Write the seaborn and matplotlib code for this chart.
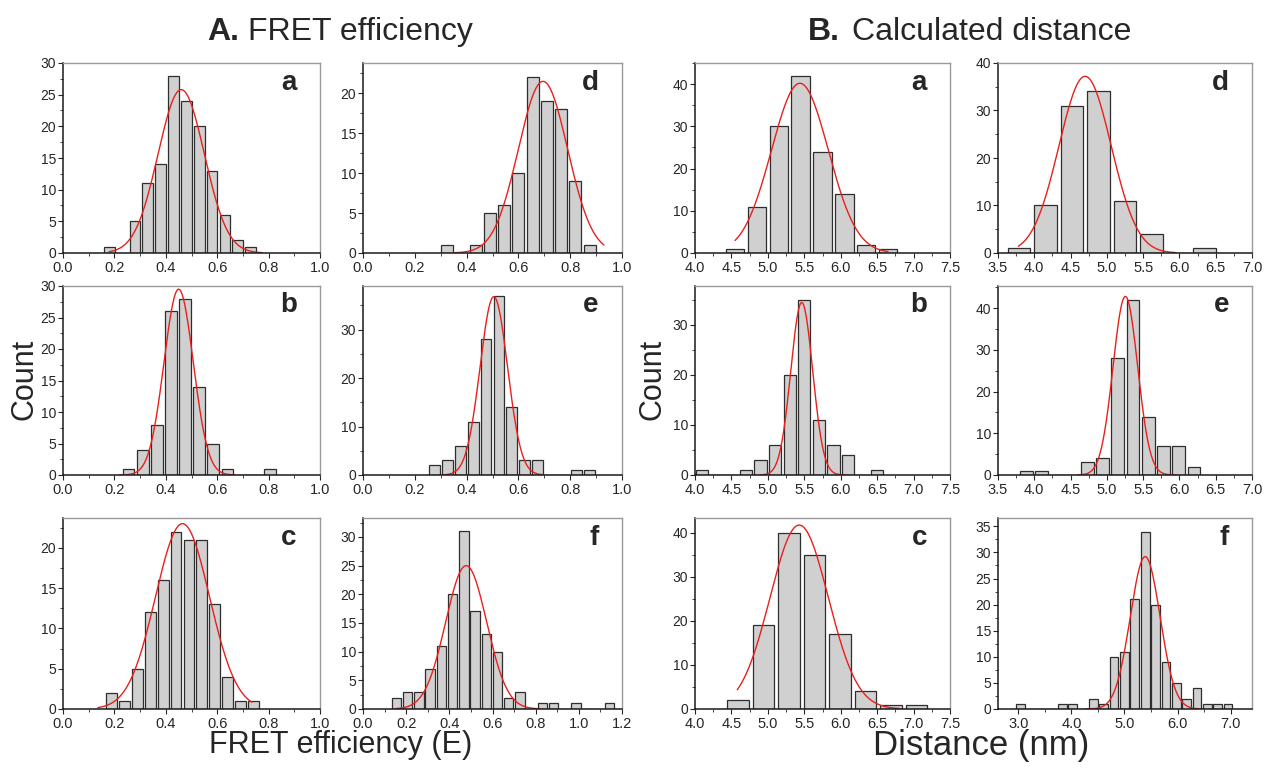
import numpy as np
import pandas as pd
import matplotlib
matplotlib.use("Agg")
import matplotlib.pyplot as plt
from matplotlib.ticker import MultipleLocator, FormatStrFormatter
import seaborn as sns

sns.set_style("ticks")
plt.rcParams['font.family'] = ['Liberation Sans', 'DejaVu Sans']

# --- A. FRET efficiency histograms: bin centres and counts ---
fret_a_x = [0.18, 0.28, 0.33, 0.38, 0.43, 0.48, 0.53, 0.58, 0.63, 0.68, 0.73]
fret_a_n = [1, 5, 11, 14, 28, 24, 20, 13, 6, 2, 1]
fret_b_x = [0.255, 0.31, 0.365, 0.42, 0.475, 0.53, 0.585, 0.64, 0.805]
fret_b_n = [1, 4, 8, 26, 28, 14, 5, 1, 1]
fret_c_x = [0.19, 0.24, 0.29, 0.34, 0.39, 0.44, 0.49, 0.54, 0.59, 0.64, 0.69, 0.74]
fret_c_n = [2, 1, 5, 12, 16, 22, 21, 21, 13, 4, 1, 1]
fret_d_x = [0.325, 0.435, 0.49, 0.545, 0.60, 0.655, 0.71, 0.765, 0.82, 0.875]
fret_d_n = [1, 1, 5, 6, 10, 22, 19, 18, 9, 1]
fret_e_x = [0.275, 0.325, 0.375, 0.425, 0.475, 0.525, 0.575, 0.625, 0.675, 0.825, 0.875]
fret_e_n = [2, 3, 6, 11, 28, 37, 14, 3, 3, 1, 1]
fret_f_x = [0.155, 0.207, 0.259, 0.311, 0.363, 0.415, 0.467, 0.519, 0.571, 0.623,
            0.675, 0.727, 0.831, 0.883, 0.987, 1.143]
fret_f_n = [2, 3, 3, 7, 11, 20, 31, 17, 13, 10, 2, 3, 1, 1, 1, 1]
fret_binw = [0.05, 0.055, 0.05, 0.055, 0.05, 0.052]

# --- B. calculated distance (nm) histograms ---
dist_a_x = [4.55, 4.85, 5.15, 5.45, 5.75, 6.05, 6.35, 6.65]
dist_a_n = [1, 11, 30, 42, 24, 14, 2, 1]
dist_b_x = [4.1, 4.7, 4.9, 5.1, 5.3, 5.5, 5.7, 5.9, 6.1, 6.5]
dist_b_n = [1, 1, 3, 6, 20, 35, 11, 6, 4, 1]
dist_c_x = [4.59, 4.94, 5.29, 5.64, 5.99, 6.34, 6.69, 7.04]
dist_c_n = [2, 19, 40, 35, 17, 4, 1, 1]
dist_d_x = [3.79, 4.155, 4.52, 4.885, 5.25, 5.615, 6.345]
dist_d_n = [1, 10, 31, 34, 11, 4, 1]
dist_e_x = [3.89, 4.10, 4.73, 4.94, 5.15, 5.36, 5.57, 5.78, 5.99, 6.20]
dist_e_n = [1, 1, 3, 4, 28, 42, 14, 7, 7, 2]
dist_f_x = [3.05, 3.83, 4.025, 4.415, 4.61, 4.805, 5.0, 5.195, 5.39, 5.585,
            5.78, 5.975, 6.17, 6.365, 6.56, 6.755, 6.95]
dist_f_n = [1, 1, 1, 2, 1, 10, 11, 21, 34, 20, 9, 5, 2, 4, 1, 1, 1]
dist_binw = [0.3, 0.2, 0.35, 0.365, 0.21, 0.195]

# --- Gaussian fits: amplitude, mean, sigma, curve start, curve end ---
fret_fits = [(25.8, 0.46, 0.09, 0.18, 0.775),
             (29.5, 0.45, 0.057, 0.22, 0.67),
             (23.0, 0.465, 0.105, 0.135, 0.735),
             (21.5, 0.695, 0.095, 0.35, 0.93),
             (36.8, 0.505, 0.053, 0.31, 0.70),
             (25.0, 0.478, 0.095, 0.15, 0.82)]
dist_fits = [(40.2, 5.44, 0.39, 4.55, 6.65),
             (34.5, 5.465, 0.15, 4.9, 6.05),
             (41.7, 5.43, 0.40, 4.58, 6.8),
             (37.2, 4.70, 0.36, 3.78, 5.95),
             (42.8, 5.255, 0.17, 4.6, 5.95),
             (29.2, 5.39, 0.28, 4.28, 6.4)]

panel_letters = ['a', 'b', 'c', 'd', 'e', 'f']

W, H = 1265, 773
fig = plt.figure(figsize=(W / 100, H / 100), dpi=100)

col_px = [(63, 320), (363, 622), (695, 950), (998, 1252)]
row_px = [(63, 253), (286, 475), (518, 709)]


def make_ax(col, row):
    x0, x1 = col_px[col]
    y0, y1 = row_px[row]
    return fig.add_axes([x0 / W, 1 - y1 / H, (x1 - x0) / W, (y1 - y0) / H])


def draw_panel(ax, xs, ns, w, fit, letter, xlim, ylim, xmaj, ymaj, xfmt):
    n_bins = int(round((xs[-1] - xs[0]) / w)) + 1
    lo_edge = xs[0] - w / 2
    df = pd.DataFrame({'value': xs, 'count': ns})
    sns.histplot(data=df, x='value', weights='count', bins=n_bins,
                 binrange=(lo_edge, lo_edge + n_bins * w), shrink=0.84, ax=ax,
                 color='#d0d0d0', edgecolor='#2e2e2e', linewidth=0.9, alpha=1)
    amp, mu, sd, lo, hi = fit
    gx = np.linspace(lo, hi, 300)
    gy = amp * np.exp(-0.5 * ((gx - mu) / sd) ** 2)
    sns.lineplot(x=gx, y=gy, ax=ax, color='#e8201c', linewidth=1.0)

    ax.set_xlim(*xlim)
    ax.set_ylim(*ylim)
    ax.xaxis.set_major_locator(MultipleLocator(xmaj))
    ax.xaxis.set_minor_locator(MultipleLocator(xmaj / 2))
    ax.yaxis.set_major_locator(MultipleLocator(ymaj))
    ax.yaxis.set_minor_locator(MultipleLocator(ymaj / 2))
    ax.xaxis.set_major_formatter(FormatStrFormatter(xfmt))
    ax.tick_params(axis='x', which='major', labelsize=10.5, length=3.5, width=0.8, pad=2)
    ax.tick_params(axis='y', which='major', labelsize=10, length=3.5, width=0.8, pad=1.5)
    ax.tick_params(which='minor', length=2, width=0.6)
    ax.set_xlabel('')
    ax.set_ylabel('')
    for side in ['left', 'bottom']:
        ax.spines[side].set_color('#1a1a1a')
        ax.spines[side].set_linewidth(1.1)
    for side in ['top', 'right']:
        ax.spines[side].set_visible(True)
        ax.spines[side].set_color('#9a9a9a')
        ax.spines[side].set_linewidth(1.0)
    ax.text(0.91, 0.86, letter, transform=ax.transAxes, ha='right', va='baseline',
            fontsize=20, fontweight='bold')


fret_x = [fret_a_x, fret_b_x, fret_c_x, fret_d_x, fret_e_x, fret_f_x]
fret_n = [fret_a_n, fret_b_n, fret_c_n, fret_d_n, fret_e_n, fret_f_n]
dist_x = [dist_a_x, dist_b_x, dist_c_x, dist_d_x, dist_e_x, dist_f_x]
dist_n = [dist_a_n, dist_b_n, dist_c_n, dist_d_n, dist_e_n, dist_f_n]

fret_ylim = [(0, 30), (0, 30), (0, 23.7), (0, 23.8), (0, 39), (0, 33.3)]
fret_ymaj = [5, 5, 5, 5, 10, 5]
fret_xlim = [(0, 1), (0, 1), (0, 1), (0, 1), (0, 1), (0, 1.2)]
dist_ylim = [(0, 45), (0, 37.8), (0, 43.3), (0, 40), (0, 45.3), (0, 36.6)]
dist_ymaj = [10, 10, 10, 10, 10, 5]
dist_xlim = [(4, 7.5), (4, 7.5), (4, 7.5), (3.5, 7.0), (3.5, 7.0), (2.62, 7.4)]
dist_xmaj = [0.5, 0.5, 0.5, 0.5, 0.5, 1.0]

for i in range(6):
    col, row = (0, i) if i < 3 else (1, i - 3)
    ax = make_ax(col, row)
    draw_panel(ax, fret_x[i], fret_n[i], fret_binw[i], fret_fits[i], panel_letters[i],
               fret_xlim[i], fret_ylim[i], 0.2, fret_ymaj[i], '%.1f')

    ax = make_ax(col + 2, row)
    draw_panel(ax, dist_x[i], dist_n[i], dist_binw[i], dist_fits[i], panel_letters[i],
               dist_xlim[i], dist_ylim[i], dist_xmaj[i], dist_ymaj[i], '%.1f')

# headings
fig.text(207 / W, 1 - 32 / H, 'A.', fontsize=23, fontweight='bold', ha='left', va='center')
fig.text(248 / W, 1 - 32 / H, 'FRET efficiency', fontsize=23, ha='left', va='center')
fig.text(808 / W, 1 - 32 / H, 'B.', fontsize=23, fontweight='bold', ha='left', va='center')
fig.text(852 / W, 1 - 32 / H, 'Calculated distance', fontsize=23, ha='left', va='center')

fig.text(25 / W, 1 - 379 / H, 'Count', fontsize=22, rotation=90, ha='center', va='center')
fig.text(652 / W, 1 - 379 / H, 'Count', fontsize=22, rotation=90, ha='center', va='center')

fig.text(341 / W, 1 - 745 / H, 'FRET efficiency (E)', fontsize=22, ha='center', va='center')
fig.text(981 / W, 1 - 745 / H, 'Distance (nm)', fontsize=25, ha='center', va='center')

fig.savefig('out.png', dpi=100, facecolor='white')
